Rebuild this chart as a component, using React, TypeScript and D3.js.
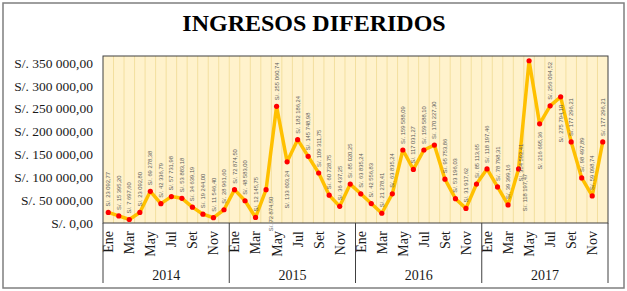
import React, { useEffect, useRef } from "react";
import * as d3 from "d3";

const years = ["2014", "2015", "2016", "2017"];
const months = ["Ene", "Feb", "Mar", "Abr", "May", "Jun", "Jul", "Ago", "Set", "Oct", "Nov", "Dic"];

const ingresos2014 = [23092.77, 15395.2, 7697.6, 23092.8, 69278.38, 42336.79, 57731.98, 53883.18, 34639.19, 19244.0, 11546.4, 28961.6];
const ingresos2015 = [72874.5, 48583.0, 12145.75, 72874.5, 255060.74, 133603.24, 182186.24, 145748.98, 109311.75, 60728.75, 36437.25, 85020.25];
const ingresos2016 = [63835.24, 42556.83, 21278.41, 63835.24, 159588.09, 117031.27, 159588.1, 170227.3, 95753.86, 53196.03, 31917.62, 85113.65];
const ingresos2017 = [118197.46, 78798.31, 39399.16, 118197.47, 354592.41, 216695.36, 256094.52, 275794.1, 177296.21, 98497.89, 59098.74, 177296.21];

const yTicks = [0, 50000, 100000, 150000, 200000, 250000, 300000, 350000];

// data labels that sit under the point instead of above it
const labelsBelow: Record<number, { dx: number; gap: number }> = {
  15: { dx: 5, gap: 2 },
  17: { dx: 0, gap: 4 },
  39: { dx: 6, gap: 0 },
  40: { dx: -8, gap: 78 },
  41: { dx: 0, gap: 3 },
  43: { dx: 0, gap: 3 },
};

const soles = d3.formatLocale({
  decimal: ",",
  thousands: " ",
  grouping: [3],
  currency: ["S/. ", ""],
});
const fmt = soles.format("$,.2f");

const App = () => {
  const svgRef = useRef<SVGSVGElement>(null);

  useEffect(() => {
    const svg = d3.select(svgRef.current);
    svg.selectAll("*").remove();

    const series = [ingresos2014, ingresos2015, ingresos2016, ingresos2017];
    const data = years.flatMap((yr, yi) =>
      series[yi].map((v, m) => ({ year: yr, month: months[m], value: v, i: yi * 12 + m }))
    );

    const left = 103;
    const right = 608;
    const top = 56;
    const bottom = 223;

    const x = d3.scaleBand<number>().domain(d3.range(data.length)).range([left, right]);
    const bw = x.bandwidth();
    const cx = (i: number) => (x(i) as number) + bw / 2;
    const y = d3.scaleLinear().domain([0, 365000]).range([bottom, top]);

    // chart area frame
    svg
      .append("rect")
      .attr("x", 3)
      .attr("y", 3)
      .attr("width", 621)
      .attr("height", 285)
      .attr("fill", "#fff")
      .attr("stroke", "#7f7f7f")
      .attr("stroke-width", 1.5);

    svg
      .append("text")
      .attr("x", 314)
      .attr("y", 31)
      .attr("text-anchor", "middle")
      .attr("font-family", "Liberation Serif, Times New Roman, serif")
      .attr("font-weight", "bold")
      .attr("font-size", 24)
      .text("INGRESOS DIFERIDOS");

    // plot background with thin vertical stripes
    svg
      .append("rect")
      .attr("x", left)
      .attr("y", top)
      .attr("width", right - left)
      .attr("height", bottom - top)
      .attr("fill", "#fff2cc");

    svg
      .append("g")
      .selectAll("line")
      .data(d3.range(1, data.length))
      .enter()
      .append("line")
      .attr("x1", (i) => x(i) as number)
      .attr("x2", (i) => x(i) as number)
      .attr("y1", top)
      .attr("y2", bottom)
      .attr("stroke", "#f3df9f")
      .attr("stroke-width", 1);

    const yAxis = d3
      .axisLeft(y)
      .tickValues(yTicks)
      .tickSize(0)
      .tickPadding(10)
      .tickFormat((d) => fmt(d as number));

    const gy = svg.append("g").attr("transform", `translate(${left},0)`).call(yAxis);
    gy.select(".domain").remove();
    gy.selectAll("text")
      .attr("font-family", "Liberation Serif, Times New Roman, serif")
      .attr("font-size", 13.5)
      .attr("fill", "#1a1a1a");

    const xAxis = d3
      .axisBottom(x)
      .tickValues(d3.range(0, data.length, 2))
      .tickSize(0)
      .tickFormat((i) => months[(i as number) % 12]);

    const gx = svg.append("g").attr("transform", `translate(0,${bottom})`).call(xAxis);
    gx.select(".domain").remove();
    gx.selectAll("text")
      .attr("transform", "rotate(-90)")
      .attr("text-anchor", "end")
      .attr("x", -8)
      .attr("y", 0)
      .attr("dy", "0.35em")
      .attr("font-family", "Liberation Serif, Times New Roman, serif")
      .attr("font-size", 14)
      .attr("fill", "#1a1a1a");

    // year groups under the months
    svg
      .append("g")
      .selectAll("line")
      .data(d3.range(years.length + 1))
      .enter()
      .append("line")
      .attr("x1", (k) => left + k * 12 * bw)
      .attr("x2", (k) => left + k * 12 * bw)
      .attr("y1", bottom)
      .attr("y2", 283)
      .attr("stroke", "#404040")
      .attr("stroke-width", 1);

    svg
      .append("g")
      .selectAll("text")
      .data(years)
      .enter()
      .append("text")
      .attr("x", (d, k) => left + k * 12 * bw + 6 * bw)
      .attr("y", 280)
      .attr("text-anchor", "middle")
      .attr("font-family", "Liberation Serif, Times New Roman, serif")
      .attr("font-size", 14)
      .attr("fill", "#1a1a1a")
      .text((d) => d);

    svg
      .append("rect")
      .attr("x", left)
      .attr("y", top)
      .attr("width", right - left)
      .attr("height", bottom - top)
      .attr("fill", "none")
      .attr("stroke", "#404040")
      .attr("stroke-width", 1);

    const line = d3
      .line<{ i: number; value: number }>()
      .x((d) => cx(d.i))
      .y((d) => y(d.value));

    svg
      .append("path")
      .datum(data)
      .attr("d", line)
      .attr("fill", "none")
      .attr("stroke", "#ffc000")
      .attr("stroke-width", 3.5)
      .attr("stroke-linejoin", "round");

    svg
      .append("g")
      .selectAll("circle")
      .data(data)
      .enter()
      .append("circle")
      .attr("cx", (d) => cx(d.i))
      .attr("cy", (d) => y(d.value))
      .attr("r", 2.6)
      .attr("fill", "#ff0000");

    svg
      .append("g")
      .selectAll("text")
      .data(data)
      .enter()
      .append("text")
      .attr("transform", (d) => {
        const b = labelsBelow[d.i];
        return `translate(${cx(d.i) + (b ? b.dx : 0)},${y(d.value)}) rotate(-90)`;
      })
      .attr("x", (d) => (labelsBelow[d.i] ? -(5 + labelsBelow[d.i].gap) : 6))
      .attr("text-anchor", (d) => (labelsBelow[d.i] ? "end" : "start"))
      .attr("dy", "0.35em")
      .attr("font-family", "Liberation Sans, Arial, sans-serif")
      .attr("font-size", 5.8)
      .attr("fill", "#595959")
      .text((d) => fmt(d.value));
  }, []);

  return (
    <svg
      ref={svgRef}
      width={627}
      height={291}
      style={{ position: "absolute", left: 0, top: 0 }}
    />
  );
};

export default App;
